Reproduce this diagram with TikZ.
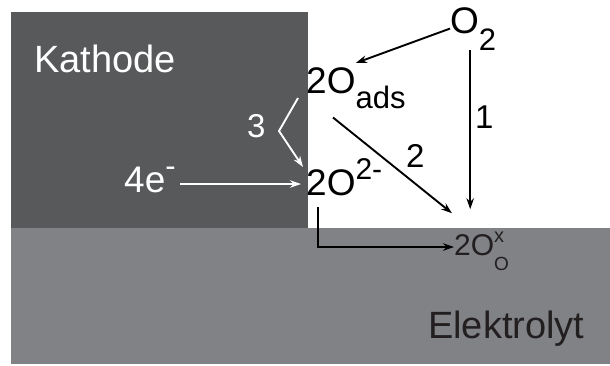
\documentclass[tikz,border=0pt]{standalone}
\usepackage{fontspec}
\setmainfont{Liberation Sans}
\usetikzlibrary{calc,arrows.meta,positioning}
\definecolor{kathodeGray}{RGB}{88,89,91}
\definecolor{elytGray}{RGB}{128,130,133}
\definecolor{inkDark}{RGB}{35,31,32}
\newcommand{\lowtxt}[3]{\raisebox{-#1}{\fontsize{#2}{#2}\selectfont #3}}
\newcommand{\hightxt}[3]{\raisebox{#1}{\fontsize{#2}{#2}\selectfont #3}}

\begin{document}
\begin{tikzpicture}[x=1pt,y=-1pt,
  lbl/.style={inner sep=0pt,anchor=base west,font=\fontsize{37}{40}\selectfont},
  biglbl/.style={lbl,font=\fontsize{38}{40}\selectfont},
  numlbl/.style={lbl,font=\fontsize{33}{36}\selectfont},
  arr/.style={line width=1.9pt,-{Stealth[length=11pt,width=7.5pt]}},
  arrw/.style={arr,white}]
\useasboundingbox (0,0) rectangle (610,365);
% Kathode und Elektrolyt
\fill[kathodeGray] (11,12) rectangle (308,228);
\fill[elytGray] (11,228) rectangle (610,364);
\node[biglbl,white] (kathode) at (34,72) {Kathode};
\node[biglbl,inkDark] (elyt) at (428,338) {Elektrolyt};
% Spezies
\node[lbl] (o2) at (450,33) {O\lowtxt{17pt}{31}{2}};
\node[lbl] (oads) at (306,93) {2O\lowtxt{15pt}{31}{ads}};
\node[lbl] (otwo) at (306,195) {2O\hightxt{16pt}{30}{2-}};
\node[lbl,white] (electrons) at (124,192) {4e\hightxt{16pt}{31}{-}};
\node[lbl,inkDark,font=\fontsize{30}{32}\selectfont] (olattice) at (454,255)
  {2O\rlap{\hightxt{13pt}{20}{x}}\lowtxt{15pt}{19}{O}};
% Reaktionswege
\node[numlbl] (num1) at (475,128) {1};
\node[numlbl] (num2) at (406,167) {2};
\node[numlbl,white] (num3) at (247,137) {3};
\draw[arr] (o2.west) -- ($(oads.north)+(0,-4)$);
\draw[arr] ($(o2.south)+(-3,0)$) -- ($(o2.south |- olattice.north)+(-3,-22)$);
\draw[arr] ($(oads.south west)+(27,9)$) -- ($(olattice.north west)+(-2,-18)$);
\coordinate (bend3) at (279,131);
\draw[arrw] ($(oads.base west)+(-8,5)$) -- (bend3) -- ($(otwo.base west)+(-3,-28)$);
\draw[arrw] ($(electrons.base east)+(4,-8)$) -- ($(otwo.base west)+(-5,-11)$);
\draw[arr] ($(otwo.base west)+(12,12)$) |- ($(olattice.base west)+(0,-8)$);
\end{tikzpicture}
\end{document}
